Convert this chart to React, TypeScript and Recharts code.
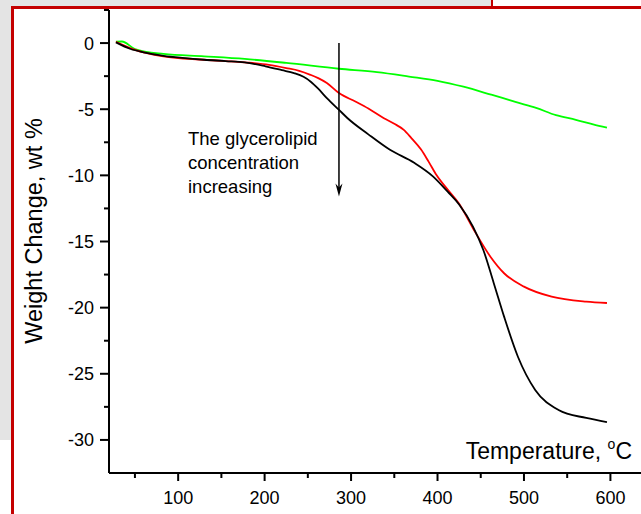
import { LineChart, Line, XAxis, YAxis, ReferenceLine, ReferenceDot } from "recharts";

const FONT = '"Liberation Sans", Arial, sans-serif';

// black curve (highest glycerolipid concentration)
const blackTemp = [28, 45, 60, 83, 105, 130, 155, 177, 201, 220, 234, 245, 253, 262, 272, 286, 296, 320, 345, 373, 395, 412, 425, 441, 453, 465, 477, 493, 513, 540, 572, 596];
const blackWeight = [0.05, -0.45, -0.7, -0.96, -1.12, -1.26, -1.36, -1.46, -1.76, -2.05, -2.27, -2.55, -2.9, -3.45, -4.16, -5.05, -5.68, -6.9, -8.07, -9.05, -10.09, -11.25, -12.2, -13.87, -15.64, -18.13, -20.68, -23.71, -26.22, -27.74, -28.34, -28.65];

// red curve
const redTemp = [28, 50, 83, 130, 177, 205, 225, 240, 253, 262, 272, 286, 305, 320, 338, 350, 361, 370, 381, 390, 399, 412, 425, 441, 461, 477, 500, 532, 572, 596];
const redWeight = [0.1, -0.51, -1.0, -1.26, -1.46, -1.65, -1.89, -2.1, -2.4, -2.65, -3.02, -3.78, -4.42, -4.95, -5.68, -6.1, -6.56, -7.2, -8.05, -9.0, -10.0, -11.1, -12.15, -14.0, -16.13, -17.4, -18.41, -19.17, -19.55, -19.65];

// green curve (lowest concentration)
const greenTemp = [28, 35, 50, 83, 130, 177, 225, 286, 330, 367, 400, 430, 462, 475, 490, 514, 537, 560, 580, 596];
const greenWeight = [0.1, 0.12, -0.45, -0.82, -1.0, -1.2, -1.5, -1.94, -2.2, -2.53, -2.85, -3.3, -3.9, -4.15, -4.45, -4.9, -5.45, -5.8, -6.15, -6.4];

const xTicks = [50, 100, 150, 200, 250, 300, 350, 400, 450, 500, 550, 600];
const yTicks = [2.5, 0, -2.5, -5, -7.5, -10, -12.5, -15, -17.5, -20, -22.5, -25, -27.5, -30];

const noteLines = ["The glycerolipid", "concentration", "increasing"];
const arrowX = 286;
const arrowTop = 0;
const arrowTip = -11.6;

const toPoints = (t: number[], w: number[]) => t.map((x, i) => ({ t: x, w: w[i] }));

const blackData = toPoints(blackTemp, blackWeight);
const redData = toPoints(redTemp, redWeight);
const greenData = toPoints(greenTemp, greenWeight);

const XTick = ({ x, y, payload }: any) => {
  const major = payload.value % 100 === 0;
  return (
    <g>
      <line x1={x} x2={x} y1={y} y2={y + (major ? 8 : 5)} stroke="#000" strokeWidth={2} />
      {major && (
        <text x={x} y={y + 31} textAnchor="middle" fontSize={18} fontFamily={FONT} fill="#000">
          {payload.value}
        </text>
      )}
    </g>
  );
};

const YTick = ({ x, y, payload }: any) => {
  const major = payload.value % 5 === 0;
  return (
    <g>
      <line x1={x - (major ? 9 : 5)} x2={x} y1={y} y2={y} stroke="#000" strokeWidth={2} />
      {major && (
        <text x={x - 15} y={y + 6.5} textAnchor="end" fontSize={18} fontFamily={FONT} fill="#000">
          {payload.value}
        </text>
      )}
    </g>
  );
};

const ArrowHead = ({ cx, cy }: any) => (
  <path d={`M${cx},${cy} L${cx - 3.5},${cy - 13} L${cx},${cy - 9} L${cx + 3.5},${cy - 13} Z`} fill="#000" />
);

export default function App() {
  return (
    <div style={{ position: "fixed", left: 0, top: 0, width: 641, height: 514, overflow: "hidden", background: "#fff" }}>
      <div style={{ position: "absolute", left: 0, top: 0, width: 492, height: 7, background: "#e4e4e4" }} />
      <div style={{ position: "absolute", left: 0, top: 0, width: 11, height: 440, background: "#e4e4e4" }} />
      <div style={{ position: "absolute", left: 11, top: 6, width: 630, height: 2.5, background: "#c40000" }} />
      <div style={{ position: "absolute", left: 491, top: 0, width: 2, height: 8, background: "#c40000" }} />
      <div style={{ position: "absolute", left: 11, top: 6, width: 2.5, height: 508, background: "#c40000" }} />

      <div style={{ position: "absolute", left: 0, top: 0 }}>
        <LineChart width={650} height={514} margin={{ top: 10, right: 5, bottom: 0, left: 0 }}>
          <XAxis
            dataKey="t"
            type="number"
            domain={[20, 640]}
            ticks={xTicks}
            interval={0}
            tickSize={0}
            tickMargin={0}
            tickLine={false}
            height={41}
            allowDataOverflow
            axisLine={{ stroke: "#000", strokeWidth: 2 }}
            tick={(p: any) => <XTick {...p} />}
          />
          <YAxis
            type="number"
            domain={[-32.5, 2.5]}
            ticks={yTicks}
            interval={0}
            tickSize={0}
            tickMargin={0}
            tickLine={false}
            width={109}
            allowDataOverflow
            axisLine={{ stroke: "#000", strokeWidth: 2 }}
            tick={(p: any) => <YTick {...p} />}
          />
          <Line data={greenData} dataKey="w" type="monotone" stroke="#00ff00" strokeWidth={1.8} dot={false} isAnimationActive={false} />
          <Line data={redData} dataKey="w" type="monotone" stroke="#ff0000" strokeWidth={1.8} dot={false} isAnimationActive={false} />
          <Line data={blackData} dataKey="w" type="monotone" stroke="#000" strokeWidth={1.8} dot={false} isAnimationActive={false} />
          <ReferenceLine
            segment={[{ x: arrowX, y: arrowTop }, { x: arrowX, y: arrowTip + 0.6 }]}
            stroke="#000"
            strokeWidth={1.5}
          />
          <ReferenceDot x={arrowX} y={arrowTip} r={3} shape={(p: any) => <ArrowHead {...p} />} />
        </LineChart>
      </div>

      <svg width={641} height={514} style={{ position: "absolute", left: 0, top: 0, pointerEvents: "none" }}>
        <text
          transform="translate(42, 231) rotate(-90)"
          textAnchor="middle"
          fontSize={23.5}
          fontFamily={FONT}
          fill="#000"
        >
          Weight Change, wt %
        </text>
        <text x={632} y={459} textAnchor="end" fontSize={23} fontFamily={FONT} fill="#000">
          Temperature, <tspan fontSize={14} dy={-10}>o</tspan>
          <tspan dy={10}>C</tspan>
        </text>
        {noteLines.map((line, i) => (
          <text key={line} x={188} y={145 + i * 24} fontSize={18.5} fontFamily={FONT} fill="#000">
            {line}
          </text>
        ))}
      </svg>
    </div>
  );
}
